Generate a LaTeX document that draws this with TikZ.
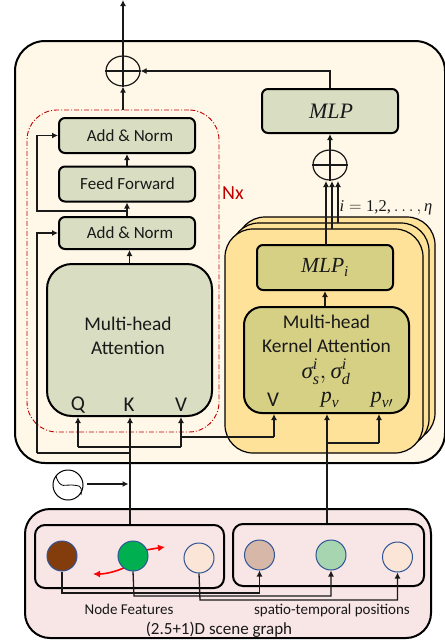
\documentclass[tikz,border=0pt]{standalone}
\usepackage{amsmath}
\usepackage{fontspec}
\setmainfont{Carlito}
\newfontfamily\mifont[ItalicFont=Liberation Serif Italic]{Liberation Serif}
\newcommand{\mi}[1]{\text{\mifont\itshape #1}}
\usetikzlibrary{arrows.meta,calc,shapes.geometric}
\definecolor{outerfill}{HTML}{FFF8E8}
\definecolor{boxgreen}{HTML}{D9DDC2}
\definecolor{stackfill}{HTML}{FFE299}
\definecolor{boxolive}{HTML}{D6D085}
\definecolor{pinkfill}{HTML}{F8E5E5}
\definecolor{nxred}{HTML}{C00000}
\definecolor{ringblue}{HTML}{2F5597}
\tikzset{
  conn/.style={line width=1.3pt,draw=black!90},
  arr/.style={conn,-{Latex[length=6pt,width=6pt]}},
  gbox/.style={draw=black,line width=2pt,fill=boxgreen,rounded corners=6pt,inner sep=0pt,font=\fontsize{17}{19}\selectfont,text=black!90},
  ybox/.style={gbox,fill=boxolive},
  plusc/.style={draw=black!90,line width=1.2pt,ellipse,minimum width=34pt,minimum height=30pt,inner sep=0pt},
  stack/.style={draw=black,line width=1.2pt,fill=stackfill,rounded corners=28pt,inner sep=0pt,minimum width=198pt,minimum height=224pt},
  dotn/.style={circle,draw=ringblue,line width=1pt,minimum size=30pt,inner sep=0pt},
  lab/.style={inner sep=0pt,text=black!90},
  bigbox/.style={draw=black,line width=2pt,inner sep=0pt},
}
\begin{document}
\begin{tikzpicture}[x=1pt,y=-1pt]
\useasboundingbox (0,0) rectangle (445,641);
% main panels
\node[bigbox,fill=outerfill,rounded corners=30pt,minimum width=430pt,minimum height=422pt] (panel) at (230,252) {};
\node[bigbox,fill=pinkfill,rounded corners=25pt,minimum width=406pt,minimum height=129pt] (scene) at (228,573.5) {};
% red frame
\node[draw=nxred,dash pattern=on 5pt off 2pt on 1pt off 2pt,line width=0.9pt,rounded corners=30pt,minimum width=192pt,minimum height=322pt,inner sep=0pt] (frame) at (123,271) {};
\node[lab,text=nxred,font=\fontsize{20}{22}\selectfont] (nx) at (233,193) {Nx};
% left column
\node[gbox,minimum width=136pt,minimum height=35pt] (an1) at (127,135.5) {\hspace*{6pt}\raisebox{-1.5pt}{Add \& Norm}};
\node[gbox,minimum width=136pt,minimum height=35pt] (ff) at (127,184) {\hspace*{1pt}\raisebox{-2.5pt}{Feed Forward}};
\node[gbox,minimum width=136pt,minimum height=32pt] (an2) at (127,233) {\hspace*{6pt}\raisebox{-1pt}{Add \& Norm}};
\node[gbox,rounded corners=25pt,minimum width=165pt,minimum height=152pt] (mha) at (129.5,340) {};
\node[lab,align=center,font=\fontsize{19.4}{24.5}\selectfont] (mhat) at (128,336) {Multi-head\\Attention};
\node[lab,font=\fontsize{21}{23}\selectfont] (q) at (78,405) {Q};
\node[lab,font=\fontsize{21}{23}\selectfont] (k) at (129,405) {K};
\node[lab,font=\fontsize{21}{23}\selectfont] (v) at (181,405) {V};
% right column
\node[stack] (s3) at (336,329) {};
\node[stack] (s2) at (330,335) {};
\node[stack] (s1) at (324,341) {};
\node[gbox,minimum width=136pt,minimum height=44pt,font=\fontsize{22}{24}\selectfont] (mlp) at (330,111) {\hspace*{2pt}$\mi{MLP}$};
\node[ybox,minimum width=136pt,minimum height=45pt,font=\fontsize{21.5}{24}\selectfont] (mlpi) at (325,267.5) {$\mi{MLP}_{\mi{i}}$};
\node[ybox,rounded corners=18pt,minimum width=165pt,minimum height=106pt] (mka) at (326.5,360) {};
\node[lab,align=center,font=\fontsize{19.4}{24}\selectfont] (mkat) at (326.5,334) {Multi-head\\Kernel Attention};
\node[lab,font=\fontsize{23}{25}\selectfont] (sig) at (326,372) {$\mi{σ}_{\mi{s}}^{\mi{i}},\mi{σ}_{\mi{d}}^{\mi{i}}$};
\node[lab,font=\fontsize{21}{23}\selectfont] (v2) at (273,400) {V};
\node[lab,font=\fontsize{22}{24}\selectfont] (pv) at (330,400) {$\mi{p}_{\mi{v}}$};
\node[lab,font=\fontsize{22}{24}\selectfont] (pvp) at (382,400) {$\mi{p}_{\mi{v}\prime}$};
\node[lab,font=\fontsize{16.5}{18}\selectfont] (idx) at (386,208) {$\mi{i}=\text{\mifont 1,2,}\dots,\mi{η}$};
% plus circles
\node[plusc] (p1) at (123,71) {};
\draw[conn] (p1.west)--(p1.east) (p1.north)--(p1.south);
\node[plusc] (p2) at (330,165) {};
\draw[conn] (p2.west)--(p2.east) (p2.north)--(p2.south);
% top connectors
\coordinate (out) at (123,0);
\draw[arr] (p1.north) -- (out);
\draw[arr] (frame.north -| p1) -- (p1.south);
\draw[arr] (mlp.north) |- (p1.east);
\draw[arr] (p2.north) -- (mlp.south);
\draw[arr] (ff.north) -- (an1.south);
\draw[arr] (an2.north) -- (ff.south);
\coordinate (b1) at (127,211);
\coordinate (b1l) at (37,211);
\draw[arr] (b1) -- (b1l) |- (an1.west);
\draw[arr] (mha.north) -- (mha.north |- an2.south);
\coordinate (kin) at (130,525);
\coordinate (kturn) at (130,453);
\coordinate (kl) at (37,453);
\draw[conn] (kturn) -- (kl);
\draw[arr] (kl) |- (an2.west);
\draw[arr] (kin) -- (mha.south -| kin);
\coordinate (qq) at (78,447);
\coordinate (vv) at (181,447);
\draw[conn] (qq) -- (vv);
\draw[arr] (qq) -- (mha.south -| qq);
\draw[arr] (vv) -- (mha.south -| vv);
\coordinate (vb) at (181,437);
\coordinate (vb2) at (274,437);
\draw[conn] (vb) -- (vb2);
\draw[arr] (vb2) -- (mka.south -| vb2);
% multi arrows
\coordinate (a1) at (326,245);
\coordinate (a2) at (332,229);
\coordinate (a3) at (338,223);
\draw[arr] (a1) -- (326,181);
\draw[arr] (a2) -- (332,181);
\draw[arr] (a3) -- (338,181);
\draw[arr] (mka.north -| mlpi) -- (mlpi.south);
% pv arrows
\coordinate (pin) at (327,524);
\coordinate (pk) at (379,443);
\draw[arr] (pin) -- (mka.south -| pin);
\draw[conn] (327,443) -- (pk);
\draw[arr] (pk) -- (mka.south -| pk);
% fourier
\node[circle,draw=black,line width=1pt,minimum size=30pt,inner sep=0pt] (four) at (68,485) {};
\draw[line width=0.8pt] (56,476) .. controls (60,490) and (66,484) .. (72,485) .. controls (78,486) and (83,484) .. (81,495);
\coordinate (fa) at (87,484);
\coordinate (fb) at (128.5,484);
\draw[arr] (fa) -- (fb);
% scene
\node[draw=black,line width=2pt,rounded corners=10pt,minimum width=189pt,minimum height=63pt,inner sep=0pt] (lb) at (129.5,556.5) {};
\node[draw=black,line width=2pt,rounded corners=10pt,minimum width=191pt,minimum height=62pt,inner sep=0pt] (rb) at (328.5,555) {};
\draw[red,line width=1.6pt,-{Latex[length=7pt,width=7pt]}] (126,567) .. controls (115,572) and (105,574) .. (93,574);
\draw[red,line width=1.6pt,-{Latex[length=7pt,width=7pt]}] (146,550) .. controls (152,549) and (158,548) .. (165,547);
\node[dotn,fill={rgb,255:red,131;green,60;blue,12}] (n1) at (62,556) {};
\node[dotn,fill={rgb,255:red,0;green,176;blue,80}] (n2) at (133,556) {};
\node[dotn,fill={rgb,255:red,251;green,229;blue,214}] (n3) at (199,558) {};
\node[dotn,fill={rgb,255:red,214;green,183;blue,168}] (n4) at (259.5,555) {};
\node[dotn,fill={rgb,255:red,166;green,213;blue,176}] (n5) at (331,555) {};
\node[dotn,fill={rgb,255:red,251;green,229;blue,214}] (n6) at (397.5,557) {};
\draw[arr] (n1.south) -- (62,593) -| (n4.south);
\draw[arr] (n2.south) -- (134,596) -| (n5.south);
\draw[arr] (n3.south) -- (200,600) -| (n6.south);
\node[lab,font=\fontsize{15}{17}\selectfont] (nf) at (129,609) {Node Features};
\node[lab,font=\fontsize{15}{17}\selectfont] (st) at (332,610) {spatio-temporal positions};
\node[lab,font=\fontsize{17}{19}\selectfont] (sg) at (219,630) {(2.5+1)D scene graph};
\end{tikzpicture}
\end{document}
